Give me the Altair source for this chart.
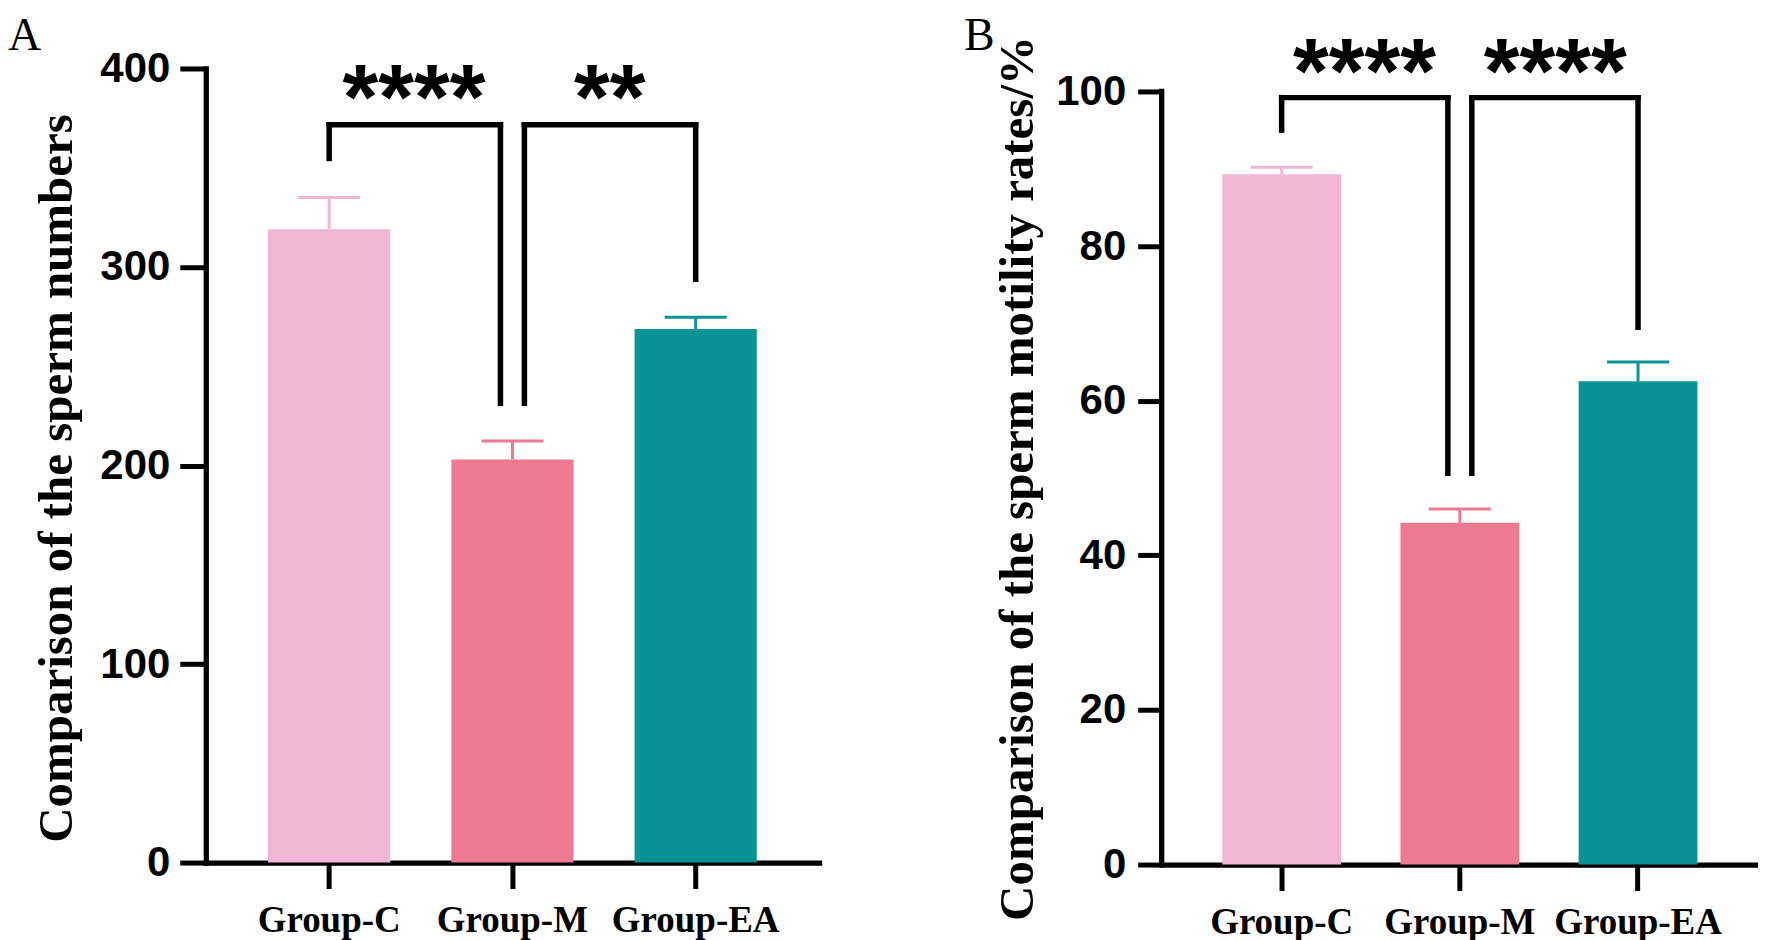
import altair as alt
import pandas as pd

groups = ["Group-C", "Group-M", "Group-EA"]
colors = ["#F1B5D5", "#EE7A91", "#0A9395"]

# Panel A: sperm numbers
num_mean = [319.0, 203.0, 268.7]
num_sd = [16.0, 9.3, 6.0]
num_ticks = [0, 100, 200, 300, 400]
num_title = "Comparison of the sperm numbers"
num_br_top = 371.6
num_br_legs = [354.7, 231.4, 293.8]   # left leg end, inner legs end, right leg end
num_stars = ["****", "**"]
num_star_y = 392.5

# Panel B: sperm motility rates
mot_mean = [89.3, 44.2, 62.5]
mot_sd = [0.9, 1.8, 2.5]
mot_ticks = [0, 20, 40, 60, 80, 100]
mot_title = "Comparison of the sperm motility rates/%"
mot_br_top = 99.2
mot_br_legs = [95.0, 50.6, 69.5]
mot_stars = ["****", "****"]
mot_star_y = 104.5

SERIF = "Liberation Serif"
SANS = "Liberation Sans"


def panel(means, sds, ticks, dmax, width, height, title, title_x, letter,
          br_top, br_legs, stars, star_y, star_offsets, draw_domain, label_pad, tick_size):
    xscale = alt.Scale(domain=groups, paddingInner=1 / 3, paddingOuter=0.34)
    xaxis = alt.Axis(title=None, labelAngle=0, labelFont=SERIF, labelFontSize=37,
                     labelFontWeight="bold", labelColor="black", labelPadding=14,
                     tickSize=26, tickWidth=5, tickColor="black",
                     domainWidth=5.3, domainColor="black", domainCap="square", grid=False)
    yscale = alt.Scale(domain=[0, dmax], nice=False, zero=True)
    yaxis = alt.Axis(values=ticks, title=title, titleFont=SERIF, titleFontSize=49,
                     titleFontWeight="bold", titleColor="black", titleAngle=270,
                     titleX=title_x, titleY=410, titleAlign="center", titleBaseline="alphabetic",
                     labelFont=SANS, labelFontSize=42, labelFontWeight="bold", labelColor="black",
                     labelPadding=label_pad, tickSize=tick_size, tickWidth=5, tickColor="black",
                     domain=draw_domain, domainWidth=5.3, domainColor="black", domainCap="square",
                     grid=False)

    def X():
        return alt.X("group:N", sort=groups, scale=xscale, axis=xaxis)

    def Y():
        return alt.Y("v:Q", scale=yscale, axis=yaxis)

    col = alt.Color("group:N", scale=alt.Scale(domain=groups, range=colors), legend=None)

    bars_df = pd.DataFrame({"group": groups, "v": means,
                            "v2": [m + s for m, s in zip(means, sds)]})
    bars = alt.Chart(bars_df).mark_bar().encode(x=X(), y=Y(), color=col)
    whisk = alt.Chart(bars_df).mark_rule(strokeWidth=3).encode(x=X(), y=Y(), y2="v2:Q", color=col)
    caps_df = pd.DataFrame({"group": groups, "v": bars_df["v2"]})
    caps = alt.Chart(caps_df).mark_tick(thickness=3, size=62, opacity=1).encode(x=X(), y=Y(), color=col)

    lw = dict(strokeWidth=5.5, color="black", strokeCap="square")
    legs_outer = alt.Chart(pd.DataFrame({"group": [groups[0], groups[2]],
                                         "v": [br_legs[0], br_legs[2]],
                                         "v2": [br_top, br_top]})).mark_rule(**lw).encode(
        x=X(), y=Y(), y2="v2:Q")
    leg_in_l = alt.Chart(pd.DataFrame({"group": [groups[1]], "v": [br_legs[1]],
                                       "v2": [br_top]})).mark_rule(xOffset=-12, **lw).encode(
        x=X(), y=Y(), y2="v2:Q")
    leg_in_r = alt.Chart(pd.DataFrame({"group": [groups[1]], "v": [br_legs[1]],
                                       "v2": [br_top]})).mark_rule(xOffset=12, **lw).encode(
        x=X(), y=Y(), y2="v2:Q")
    top1 = alt.Chart(pd.DataFrame({"group": [groups[0]], "group2": [groups[1]],
                                   "v": [br_top]})).mark_rule(x2Offset=-12, **lw).encode(
        x=X(), x2="group2:N", y=Y())
    top2 = alt.Chart(pd.DataFrame({"group": [groups[1]], "group2": [groups[2]],
                                   "v": [br_top]})).mark_rule(xOffset=12, **lw).encode(
        x=X(), x2="group2:N", y=Y())

    st = dict(font=SANS, fontSize=92, fontWeight="bold", color="black",
              baseline="alphabetic", align="center", dy=46)
    star1 = alt.Chart(pd.DataFrame({"group": [groups[0]], "v": [star_y], "t": [stars[0]]})).mark_text(
        xOffset=star_offsets[0], **st).encode(x=X(), y=Y(), text="t:N")
    star2 = alt.Chart(pd.DataFrame({"group": [groups[1]], "v": [star_y], "t": [stars[1]]})).mark_text(
        xOffset=star_offsets[1], **st).encode(x=X(), y=Y(), text="t:N")

    let = alt.Chart(pd.DataFrame({"t": [letter]})).mark_text(
        font=SERIF, fontSize=46, color="black", align="left", baseline="alphabetic").encode(
        text="t:N", x=alt.value(-198), y=alt.value(-18))

    layers = [bars, whisk, caps, legs_outer, leg_in_l, leg_in_r, top1, top2, star1, star2, let]
    if not draw_domain:
        ax = alt.Chart(pd.DataFrame({"t": [0]})).mark_rule(
            strokeWidth=5.3, color="black", strokeCap="square").encode(
            x=alt.value(0), y=alt.datum(0), y2=alt.datum(ticks[-1]))
        layers.append(ax)
    return alt.layer(*layers).properties(width=width, height=height)


pa = panel(num_mean, num_sd, num_ticks, 400, 614, 795, num_title, -134, "A",
           num_br_top, num_br_legs, num_stars, num_star_y, [85, 97.5], True, 10, 26)
pb = panel(mot_mean, mot_sd, mot_ticks, 100 * 797 / 774, 597, 797, mot_title, -129, "B",
           mot_br_top, mot_br_legs, mot_stars, mot_star_y, [83, 95.5], False, 12, 24)

chart = alt.hconcat(pa, pb, spacing=343, bounds="flush",
                    padding={"top": 5, "left": 0, "right": 0, "bottom": 0}).configure_view(stroke=None)
chart.save("out.html", embed_options={"renderer": "svg", "actions": False})
